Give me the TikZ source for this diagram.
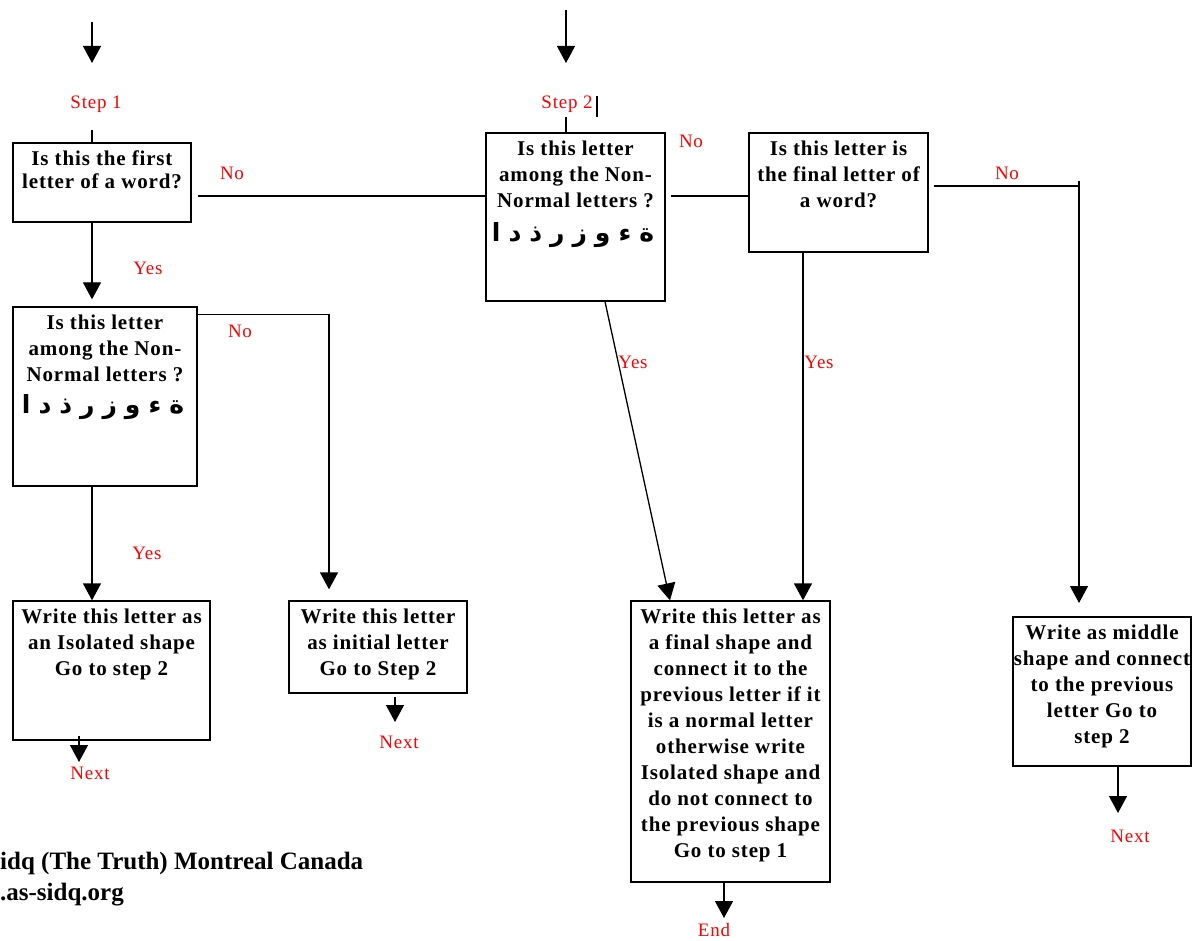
\documentclass[tikz,border=0pt]{standalone}
\usepackage{fontspec}
\setmainfont{Liberation Serif}
\newfontfamily\boxfont[LetterSpace=4]{Liberation Serif}
\newfontfamily\arabicfont[Script=Arabic]{DejaVu Sans}
\TeXXeTstate=1
\usetikzlibrary{arrows.meta}
\begin{document}
\begin{tikzpicture}[x=1pt,y=-1pt,
  bx/.style={draw=black, line width=1.3pt, rectangle, inner sep=0pt},
  txt/.style={font=\boxfont\bfseries\fontsize{21}{26}\selectfont, align=center, inner sep=0pt, anchor=north},
  lbl/.style={text=red, font=\boxfont\fontsize{19}{22}\selectfont, inner sep=0pt},
  ar/.style={font=\arabicfont\bfseries\fontsize{25}{28}\selectfont, inner sep=0pt},
  ln/.style={line width=1.3pt},
  arr/.style={line width=1.3pt, -{Triangle[length=17pt,width=18pt]}},
  foot/.style={font=\bfseries\fontsize{25}{29}\selectfont, inner sep=0pt, anchor=west}]
\useasboundingbox (0,0) rectangle (1192,941);
\fill[white] (0,0) rectangle (1192,941);

% boxes
\node[bx, minimum width=178pt, minimum height=79pt]  (b1) at (102,182.5) {};
\node[bx, minimum width=184pt, minimum height=179pt] (b2) at (105,396.5) {};
\node[bx, minimum width=197pt, minimum height=139pt] (b3) at (111.5,670.5) {};
\node[bx, minimum width=178pt, minimum height=92pt]  (b4) at (378,647) {};
\node[bx, minimum width=179pt, minimum height=168pt] (b5) at (575.5,217) {};
\node[bx, minimum width=179pt, minimum height=119pt] (b6) at (838.5,192.5) {};
\node[bx, minimum width=199pt, minimum height=281pt] (b7) at (730.5,741.5) {};
\node[bx, minimum width=178pt, minimum height=149pt] (b8) at (1102,691.5) {};

% box texts
\node[txt, font=\boxfont\bfseries\fontsize{21}{23}\selectfont] (t1) at (102,151) {Is this the first\\letter of a word?};
\node[txt] (t2) at (105,315) {Is this letter\\among the Non-\\Normal letters ?};
\node[ar] (a2) at (103,407) {\spaceskip=8pt\beginR ة ء و ز ر ذ د ا\endR};
\node[txt] (t3) at (111.5,609) {Write this letter as\\an Isolated shape\\Go to step 2};
\node[txt] (t4) at (378,609) {Write this letter\\as initial letter\\Go to Step 2};
\node[txt] (t5) at (575.5,141) {Is this letter\\among the Non-\\Normal letters ?};
\node[ar] (a5) at (573,235) {\spaceskip=8pt\beginR ة ء و ز ر ذ د ا\endR};
\node[txt] (t6) at (838.5,141) {Is this letter is\\the final letter of\\a word?};
\node[txt] (t7) at (730.5,609) {Write this letter as\\a final shape and\\connect it to the\\previous letter if it\\is a normal letter\\otherwise write\\Isolated shape and\\do not connect to\\the previous shape\\Go to step 1};
\node[txt] (t8) at (1102,625) {Write as middle\\shape and connect\\to the previous\\letter Go to\\step 2};

% labels
\node[lbl] (s1) at (96,104) {Step 1};
\node[lbl] (s2) at (567,104) {Step 2};
\node[lbl] (no1) at (232,173) {No};
\node[lbl] (yes1) at (148,268) {Yes};
\node[lbl] (no2) at (240,331) {No};
\node[lbl] (yes2) at (147,553) {Yes};
\node[lbl] (nx3) at (90,773) {Next};
\node[lbl] (nx4) at (399,742) {Next};
\node[lbl] (no5) at (691,141) {No};
\node[lbl] (yes5) at (633,362) {Yes};
\node[lbl] (yes6) at (819,362) {Yes};
\node[lbl] (no6) at (1007,173) {No};
\node[lbl] (end7) at (714,930) {End};
\node[lbl] (nx8) at (1130,836) {Next};

\node[foot] (f1) at (0,863) {idq (The Truth) Montreal Canada};
\node[foot] (f2) at (0,895) {.as-sidq.org};

% coordinates
\coordinate (in1) at (92,22);
\coordinate (in1e) at (92,63);
\coordinate (in2) at (566,10);
\coordinate (in2e) at (566,63);
\coordinate (c1a) at (92,130);
\coordinate (c2a) at (566,117);
\coordinate (bar1) at (597,96);
\coordinate (bar2) at (597,117);
\coordinate (n3a) at (79,736);
\coordinate (n3b) at (79,762);
\coordinate (n4a) at (395,697);
\coordinate (n4b) at (395,722);
\coordinate (e7) at (724,918);
\coordinate (n8) at (1118,813);
\coordinate (j6) at (1079,186);
\coordinate (j6t) at (1079,181);
\coordinate (j6e) at (1079,603);

% connectors
\draw[arr] (in1) -- (in1e);
\draw[ln] (c1a) -- (c1a |- b1.north);
\draw[arr] (c1a |- b1.south) -- ([yshift=7pt]c1a |- b2.north);
\draw[ln] ([xshift=6pt]b1.east |- 0,196) -- (b5.west |- 0,196);
\draw[arr] ([yshift=-8pt]b2.north east) -| ([yshift=11pt]b4.north -| 329,0);
\draw[arr] (c1a |- b2.south) -- (c1a |- b3.north);
\draw[arr] (n3a) -- (n3b);
\draw[arr] (n4a) -- (n4b);

\draw[arr] (in2) -- (in2e);
\draw[ln] (c2a) -- (c2a |- b5.north);
\draw[line width=2.4pt] (bar1) -- (bar2);
\draw[ln] ([xshift=5pt]b5.east |- 0,196) -- (b6.west |- 0,196);
\draw[ln] ([xshift=5pt]b6.east |- j6) -- (j6);
\draw[arr] (j6t) -- (j6e);
\draw[arr] (605,0 |- b5.south) -- (670,0 |- b7.north);
\draw[arr] (803,0 |- b6.south) -- (803,0 |- b7.north);
\draw[arr] (724,0 |- b7.south) -- (e7);
\draw[arr] (1118,0 |- b8.south) -- (n8);
\end{tikzpicture}
\end{document}
